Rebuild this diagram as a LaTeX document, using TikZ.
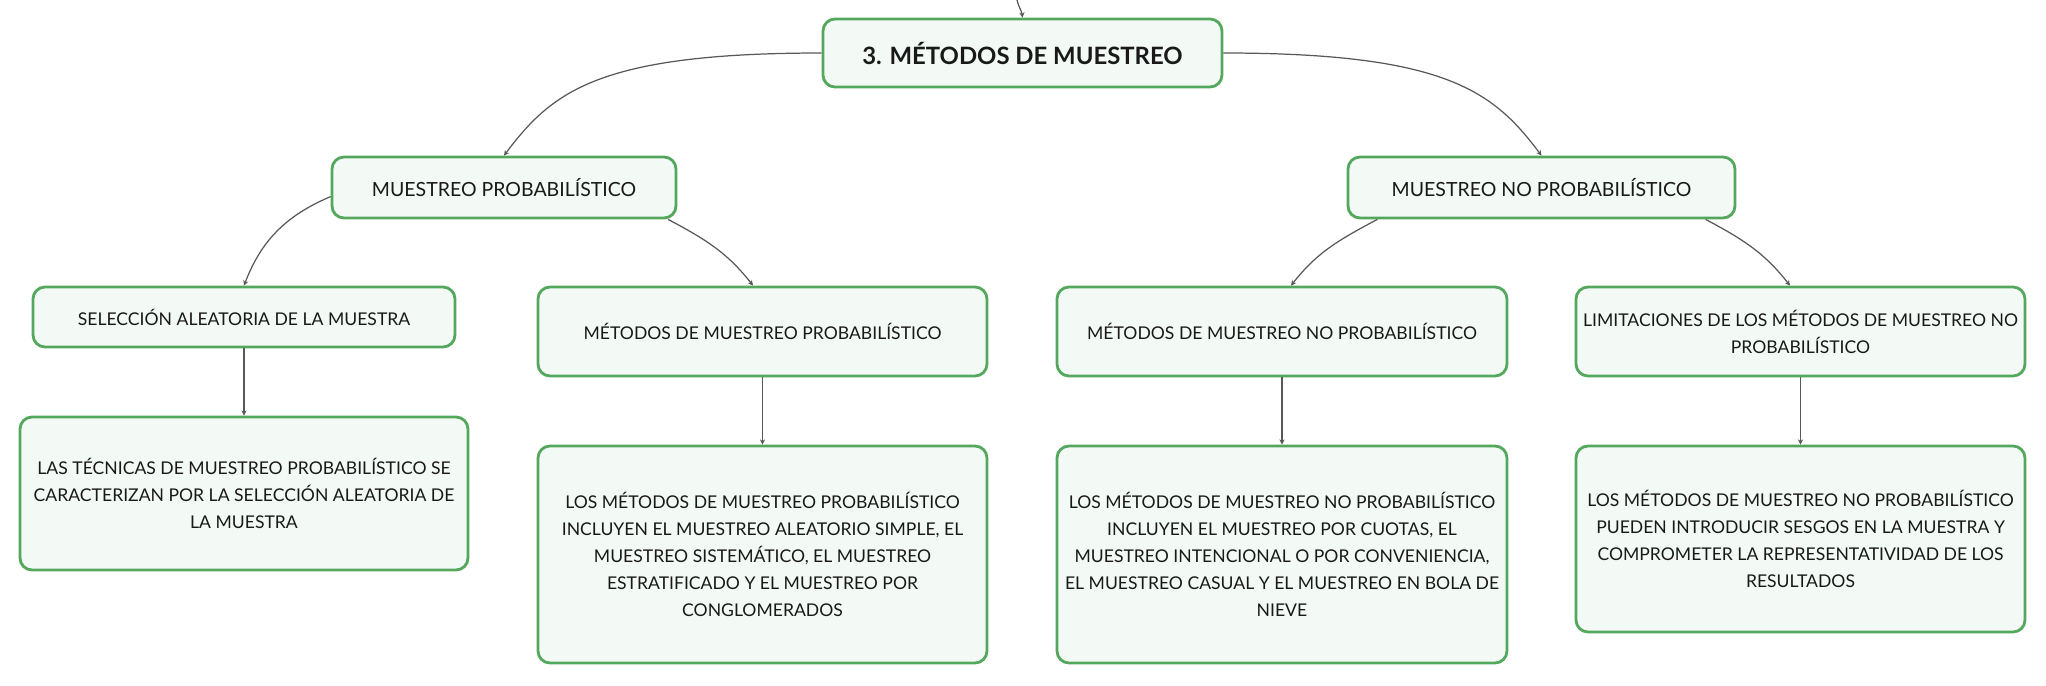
\documentclass[tikz,border=0pt]{standalone}
\usepackage{fontspec}
\setmainfont{Lato}
\usepackage{tikz}
\usetikzlibrary{positioning,arrows.meta}
\definecolor{boxgreen}{RGB}{84,168,94}
\definecolor{boxfill}{RGB}{243,250,245}
\definecolor{linkgray}{RGB}{88,88,88}
\tikzset{
    block/.style = {
        draw=boxgreen,
        fill=boxfill,
        shape=rectangle,
        rounded corners=0.24cm,
        line width=1.6pt,
        align=center,
        inner sep=0pt,
        text=black!90,
        font=\fontsize{10}{15.4}\selectfont
    },
    branch/.style = {
        block,
        font=\fontsize{11.1}{15.4}\selectfont
    },
    head/.style = {
        block,
        font=\fontsize{13.6}{18}\selectfont\bfseries
    },
    link/.style = {
        draw,
        color=linkgray,
        line width=0.7pt,
        ->
    },
    >={Stealth[length=3pt,width=3pt]},
}
\begin{document}
\begin{tikzpicture}
                \useasboundingbox (0,0) rectangle (40.92,-13.70);

                \node[head, minimum width=7.98cm, minimum height=1.36cm] (head) at (20.45,-1.06) {3. MÉTODOS DE MUESTREO};
                \node[branch, minimum width=6.88cm, minimum height=1.22cm] (prob) at (10.08,-3.75) {MUESTREO PROBABILÍSTICO};
                \node[branch, minimum width=7.74cm, minimum height=1.22cm] (noprob) at (30.83,-3.75) {MUESTREO NO PROBABILÍSTICO};

                \node[block, minimum width=8.44cm, minimum height=1.2cm] (sel) at (4.88,-6.34) {SELECCIÓN ALEATORIA DE LA MUESTRA};
                \node[block, minimum width=8.98cm, minimum height=1.78cm] (mp) at (15.25,-6.63) {MÉTODOS DE MUESTREO PROBABILÍSTICO};
                \node[block, minimum width=9.0cm, minimum height=1.78cm] (mnp) at (25.64,-6.63) {MÉTODOS DE MUESTREO NO PROBABILÍSTICO};
                \node[block, minimum width=8.98cm, minimum height=1.78cm] (lim) at (36.01,-6.63) {LIMITACIONES DE LOS MÉTODOS DE MUESTREO NO\\PROBABILÍSTICO};

                \node[block, minimum width=8.96cm, minimum height=3.06cm] (selnote) at (4.88,-9.87) {LAS TÉCNICAS DE MUESTREO PROBABILÍSTICO SE\\CARACTERIZAN POR LA SELECCIÓN ALEATORIA DE\\LA MUESTRA};
                \node[block, minimum width=8.98cm, minimum height=4.34cm] (mpnote) at (15.25,-11.09) {LOS MÉTODOS DE MUESTREO PROBABILÍSTICO\\INCLUYEN EL MUESTREO ALEATORIO SIMPLE, EL\\MUESTREO SISTEMÁTICO, EL MUESTREO\\ESTRATIFICADO Y EL MUESTREO POR\\CONGLOMERADOS};
                \node[block, minimum width=9.0cm, minimum height=4.34cm] (mnpnote) at (25.64,-11.09) {LOS MÉTODOS DE MUESTREO NO PROBABILÍSTICO\\INCLUYEN EL MUESTREO POR CUOTAS, EL\\MUESTREO INTENCIONAL O POR CONVENIENCIA,\\EL MUESTREO CASUAL Y EL MUESTREO EN BOLA DE\\NIEVE};
                \node[block, minimum width=8.98cm, minimum height=3.72cm] (limnote) at (36.01,-10.78) {LOS MÉTODOS DE MUESTREO NO PROBABILÍSTICO\\PUEDEN INTRODUCIR SESGOS EN LA MUESTRA Y\\COMPROMETER LA REPRESENTATIVIDAD DE LOS\\RESULTADOS};

                \coordinate (parent) at (20.34,0);

                \path[link] (parent) to[out=-78,in=97] (head.north);
                \path[link] (head.west) .. controls +(-4.46,0) and +(0.96,1.28) .. (prob.north);
                \path[link] (head.east) .. controls +(4.46,0) and +(-0.96,1.28) .. (noprob.north);
                \path[link] (prob.183) to[out=203,in=69] (sel.north);
                \path[link] (prob.349) to[out=-28,in=128] ([xshift=-0.19cm]mp.north);
                \path[link] (noprob.191) to[out=208,in=52] ([xshift=0.18cm]mnp.north);
                \path[link] (noprob.349) to[out=-28,in=128] ([xshift=-0.21cm]lim.north);
                \path[link] (sel) -- (selnote);
                \path[link] (mp) -- (mpnote);
                \path[link] (mnp) -- (mnpnote);
                \path[link] (lim) -- (limnote);
            \end{tikzpicture}
\end{document}
